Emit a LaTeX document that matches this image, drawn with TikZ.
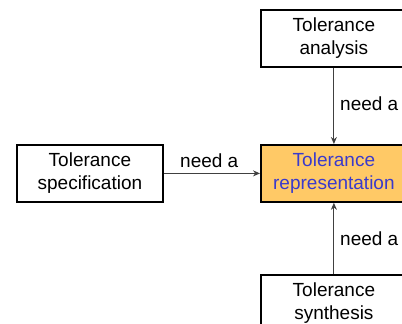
\documentclass[tikz,border=0pt]{standalone}
\usepackage{fontspec}
\setmainfont{Liberation Sans}
\usetikzlibrary{arrows.meta}
\definecolor{boxfill}{HTML}{FFC966}
\definecolor{reptext}{HTML}{3A3ACC}
\definecolor{arrowgray}{HTML}{404040}
\tikzset{
  box/.style={draw=black, line width=1.8pt, minimum width=146pt, minimum height=57pt,
    inner sep=0pt, align=center, font=\fontsize{19}{23}\selectfont, anchor=north west},
  lbl/.style={inner sep=0pt, font=\fontsize{19}{23}\selectfont, anchor=base west},
  conn/.style={draw=arrowgray, line width=1pt, -{Stealth[length=7pt,width=6pt]}}
}
\begin{document}
\begin{tikzpicture}[x=1pt,y=-1pt]
\useasboundingbox (0,0) rectangle (402,324);
\clip (0,0) rectangle (402,324);
\node[box] (ana) at (260,9) {Tolerance\\analysis};
\node[box, fill=boxfill, text=reptext] (rep) at (260,144) {Tolerance\\representation};
\node[box] (spec) at (16,144) {Tolerance\\specification};
\node[box] (syn) at (260,274) {Tolerance\\synthesis};
\draw[conn] (ana.south) -- (rep.north);
\draw[conn] (syn.north) -- (rep.south);
\draw[conn] (spec.east) -- (rep.west);
\node[lbl] (l1) at (340,110) {need a};
\node[lbl] (l2) at (340,245) {need a};
\node[lbl] (l3) at (180,167) {need a};
\end{tikzpicture}
\end{document}
